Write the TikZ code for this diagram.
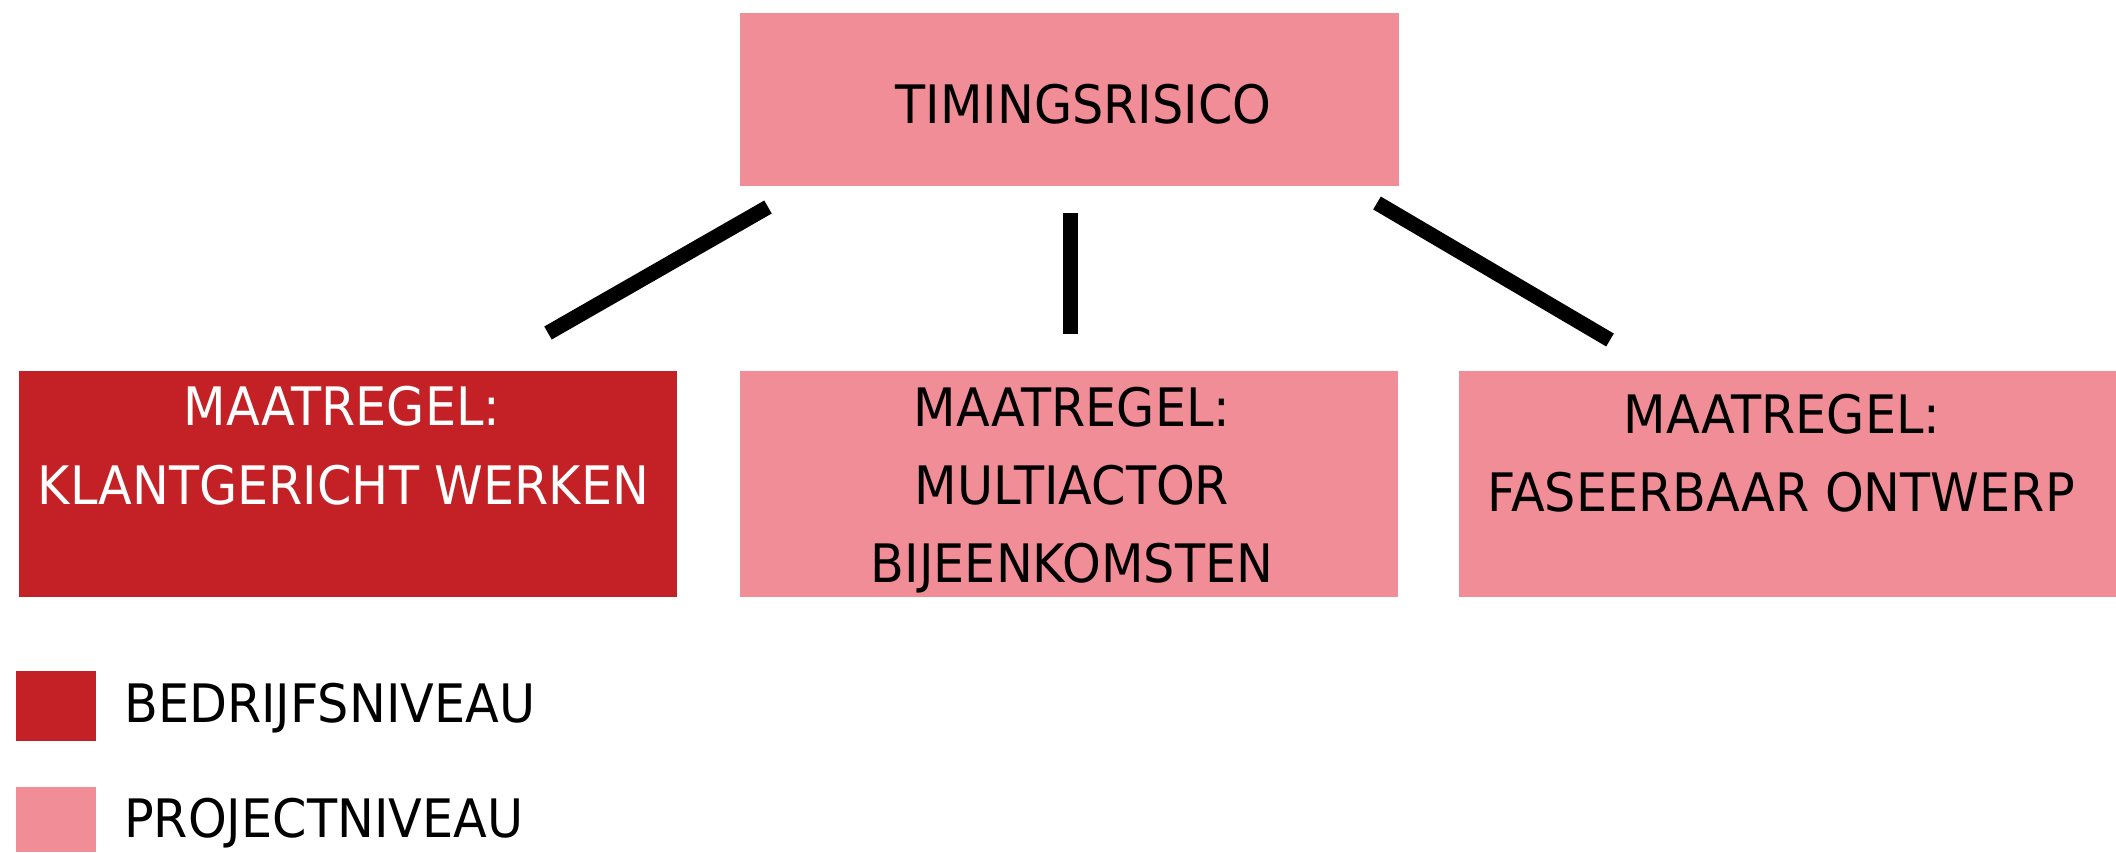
\documentclass[tikz,border=0pt]{standalone}
\usepackage{fontspec}
\setmainfont{DejaVu Sans}[FakeStretch=0.93]
\definecolor{pinkc}{RGB}{241,141,151}
\definecolor{redc}{RGB}{196,33,38}
\begin{document}
\begin{tikzpicture}[x=1pt,y=-1pt,
  box/.style={rectangle, inner sep=0pt, minimum width=658pt, minimum height=226pt},
  projbox/.style={box, fill=pinkc},
  bedrbox/.style={box, fill=redc},
  txt/.style={inner sep=0pt, anchor=base, font=\fontsize{53}{60}\selectfont},
  conn/.style={line width=15pt, line cap=butt, black},
  swatch/.style={rectangle, inner sep=0pt, minimum width=80pt}
]
\path[use as bounding box, fill=white] (0,0) rectangle (2116,852);

% boxes
\node[projbox, minimum width=659pt, minimum height=173pt] (top) at (1069.5,99.5) {};
\node[bedrbox] (left) at (348,484) {};
\node[projbox] (mid) at (1069,484) {};
\node[projbox, minimum width=657pt] (right) at (1787.5,484) {};

% texts
\node[txt] (ttop) at (1083.5,123) {TIMINGSRISICO};
\node[txt, text=white] (tl1) at (342,425) {MAATREGEL:};
\node[txt, text=white] (tl2) at (343.5,504) {KLANTGERICHT WERKEN};
\node[txt] (tm1) at (1072,426) {MAATREGEL:};
\node[txt] (tm2) at (1072,504) {MULTIACTOR};
\node[txt] (tm3) at (1072,582) {BIJEENKOMSTEN};
\node[txt] (tr1) at (1782,433) {MAATREGEL:};
\node[txt] (tr2) at (1781,511) {FASEERBAAR ONTWERP};

% connectors
\coordinate (c1s) at (768,207);
\coordinate (c1e) at (548,333);
\coordinate (c2s) at (1070,213);
\coordinate (c2e) at (1070,334);
\coordinate (c3s) at (1377,203);
\coordinate (c3e) at (1610,340);
\draw[conn] (c1s) -- (c1e);
\draw[conn] (c2s) -- (c2e);
\draw[conn] (c3s) -- (c3e);

% legend
\node[swatch, fill=redc, minimum height=70pt] (lg1) at (56,706) {};
\node[swatch, fill=pinkc, minimum height=65pt] (lg2) at (56,819.5) {};
\node[txt, anchor=base west] (lt1) at (124,722) {BEDRIJFSNIVEAU};
\node[txt, anchor=base west] (lt2) at (124,837) {PROJECTNIVEAU};
\end{tikzpicture}
\end{document}
